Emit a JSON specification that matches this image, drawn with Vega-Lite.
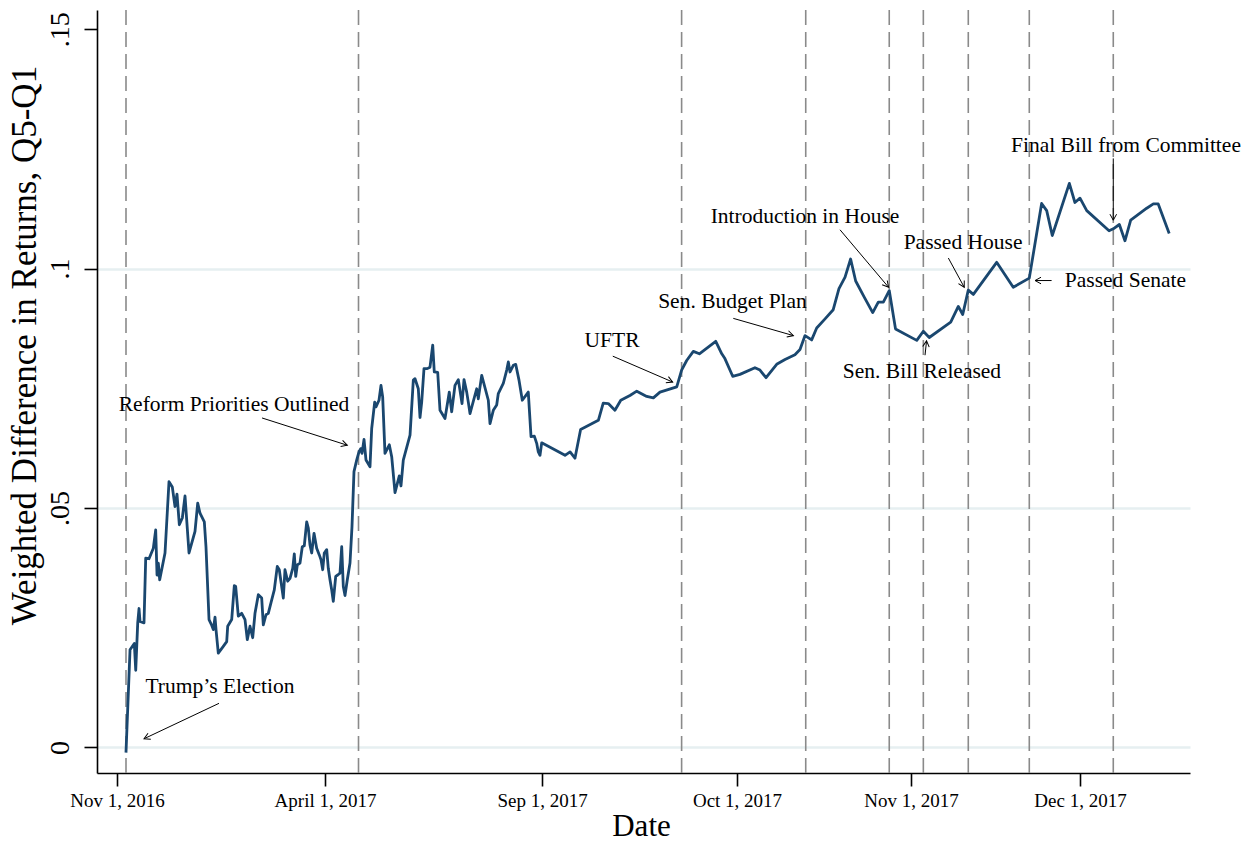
{
  "$schema": "https://vega.github.io/schema/vega-lite/v6.json",
  "width": 1093,
  "height": 763,
  "autosize": {"type": "none"},
  "padding": {"left": 97, "top": 10, "right": 63, "bottom": 69},
  "background": "white",
  "config": {"view": {"stroke": null}, "font": "Liberation Serif"},
  "datasets": {
    "series": [
      {"t":0.216,"v":-0.0011},{"t":0.313,"v":0.0204},{"t":0.416,"v":0.0217},{"t":0.45,"v":0.0161},{"t":0.498,"v":0.026},{"t":0.529,"v":0.029},{"t":0.553,"v":0.0263},{"t":0.649,"v":0.026},{"t":0.69,"v":0.0395},{"t":0.769,"v":0.0394},{"t":0.873,"v":0.0416},{"t":0.93,"v":0.0454},{"t":0.962,"v":0.036},{"t":0.993,"v":0.0385},{"t":1.026,"v":0.035},{"t":1.154,"v":0.0406},{"t":1.25,"v":0.0555},{"t":1.329,"v":0.0544},{"t":1.394,"v":0.0503},{"t":1.442,"v":0.0529},{"t":1.498,"v":0.0465},{"t":1.57,"v":0.0479},{"t":1.635,"v":0.0525},{"t":1.731,"v":0.0406},{"t":1.875,"v":0.0451},{"t":1.94,"v":0.051},{"t":1.995,"v":0.0489},{"t":2.099,"v":0.0471},{"t":2.139,"v":0.0419},{"t":2.212,"v":0.0267},{"t":2.276,"v":0.0255},{"t":2.315,"v":0.0246},{"t":2.356,"v":0.0272},{"t":2.38,"v":0.0246},{"t":2.435,"v":0.0197},{"t":2.555,"v":0.0211},{"t":2.637,"v":0.0221},{"t":2.661,"v":0.0253},{"t":2.757,"v":0.0267},{"t":2.82,"v":0.0338},{"t":2.853,"v":0.0336},{"t":2.916,"v":0.0274},{"t":2.998,"v":0.028},{"t":3.077,"v":0.0267},{"t":3.132,"v":0.0225},{"t":3.197,"v":0.0253},{"t":3.262,"v":0.0229},{"t":3.317,"v":0.028},{"t":3.397,"v":0.0319},{"t":3.478,"v":0.0312},{"t":3.517,"v":0.0256},{"t":3.582,"v":0.0277},{"t":3.637,"v":0.028},{"t":3.719,"v":0.0308},{"t":3.781,"v":0.0329},{"t":3.853,"v":0.0378},{"t":3.901,"v":0.0371},{"t":3.998,"v":0.0312},{"t":4.038,"v":0.0371},{"t":4.103,"v":0.0347},{"t":4.159,"v":0.0353},{"t":4.224,"v":0.0374},{"t":4.262,"v":0.0404},{"t":4.296,"v":0.0357},{"t":4.334,"v":0.0381},{"t":4.399,"v":0.0385},{"t":4.454,"v":0.0419},{"t":4.502,"v":0.0421},{"t":4.56,"v":0.0471},{"t":4.599,"v":0.0458},{"t":4.639,"v":0.0423},{"t":4.68,"v":0.0406},{"t":4.736,"v":0.0447},{"t":4.8,"v":0.0416},{"t":4.863,"v":0.0402},{"t":4.904,"v":0.0392},{"t":4.945,"v":0.0371},{"t":4.983,"v":0.0406},{"t":5.039,"v":0.0413},{"t":5.076,"v":0.0374},{"t":5.115,"v":0.035},{"t":5.154,"v":0.0329},{"t":5.191,"v":0.0305},{"t":5.247,"v":0.0357},{"t":5.293,"v":0.036},{"t":5.346,"v":0.0364},{"t":5.385,"v":0.0419},{"t":5.422,"v":0.0336},{"t":5.461,"v":0.0317},{"t":5.514,"v":0.035},{"t":5.576,"v":0.0385},{"t":5.622,"v":0.0461},{"t":5.668,"v":0.0576},{"t":5.73,"v":0.06},{"t":5.783,"v":0.0617},{"t":5.823,"v":0.0624},{"t":5.853,"v":0.0614},{"t":5.899,"v":0.0643},{"t":5.945,"v":0.06},{"t":6.037,"v":0.0586},{"t":6.076,"v":0.0666},{"t":6.145,"v":0.0721},{"t":6.175,"v":0.0711},{"t":6.244,"v":0.0725},{"t":6.29,"v":0.0756},{"t":6.329,"v":0.0732},{"t":6.382,"v":0.0614},{"t":6.482,"v":0.0632},{"t":6.537,"v":0.0607},{"t":6.613,"v":0.0532},{"t":6.666,"v":0.0551},{"t":6.712,"v":0.0567},{"t":6.751,"v":0.0546},{"t":6.804,"v":0.06},{"t":6.959,"v":0.0652},{"t":7.035,"v":0.0767},{"t":7.074,"v":0.077},{"t":7.15,"v":0.0749},{"t":7.189,"v":0.0689},{"t":7.228,"v":0.0721},{"t":7.281,"v":0.0791},{"t":7.357,"v":0.0791},{"t":7.419,"v":0.0794},{"t":7.482,"v":0.084},{"t":7.518,"v":0.0784},{"t":7.597,"v":0.0783},{"t":7.65,"v":0.0704},{"t":7.765,"v":0.0687},{"t":7.864,"v":0.0742},{"t":7.919,"v":0.0701},{"t":7.995,"v":0.0756},{"t":8.072,"v":0.0768},{"t":8.157,"v":0.0718},{"t":8.203,"v":0.0768},{"t":8.265,"v":0.0742},{"t":8.302,"v":0.0721},{"t":8.341,"v":0.0697},{"t":8.495,"v":0.0749},{"t":8.532,"v":0.0728},{"t":8.611,"v":0.0777},{"t":8.763,"v":0.0725},{"t":8.802,"v":0.0676},{"t":8.878,"v":0.0704},{"t":8.956,"v":0.0715},{"t":8.993,"v":0.0739},{"t":9.108,"v":0.076},{"t":9.187,"v":0.0788},{"t":9.224,"v":0.0805},{"t":9.263,"v":0.0784},{"t":9.339,"v":0.0798},{"t":9.394,"v":0.08},{"t":9.47,"v":0.0767},{"t":9.546,"v":0.0725},{"t":9.684,"v":0.0742},{"t":9.747,"v":0.0649},{"t":9.823,"v":0.065},{"t":9.878,"v":0.0635},{"t":9.915,"v":0.0617},{"t":9.954,"v":0.061},{"t":9.993,"v":0.0636},{"t":10.118,"v":0.061},{"t":10.144,"v":0.0617},{"t":10.169,"v":0.0604},{"t":10.198,"v":0.0664},{"t":10.289,"v":0.0683},{"t":10.314,"v":0.0719},{"t":10.34,"v":0.0718},{"t":10.374,"v":0.0704},{"t":10.404,"v":0.0725},{"t":10.451,"v":0.0735},{"t":10.486,"v":0.0744},{"t":10.537,"v":0.0733},{"t":10.571,"v":0.073},{"t":10.605,"v":0.0742},{"t":10.691,"v":0.0753},{"t":10.716,"v":0.0788},{"t":10.742,"v":0.0808},{"t":10.776,"v":0.0827},{"t":10.807,"v":0.0822},{"t":10.891,"v":0.0848},{"t":10.922,"v":0.0822},{"t":10.938,"v":0.0812},{"t":10.978,"v":0.0775},{"t":11.017,"v":0.0779},{"t":11.103,"v":0.0793},{"t":11.132,"v":0.0788},{"t":11.167,"v":0.0772},{"t":11.228,"v":0.08},{"t":11.276,"v":0.081},{"t":11.333,"v":0.082},{"t":11.362,"v":0.0831},{"t":11.391,"v":0.086},{"t":11.429,"v":0.0851},{"t":11.458,"v":0.0876},{"t":11.506,"v":0.0895},{"t":11.553,"v":0.0914},{"t":11.586,"v":0.0958},{"t":11.621,"v":0.0982},{"t":11.653,"v":0.102},{"t":11.682,"v":0.0974},{"t":11.732,"v":0.094},{"t":11.78,"v":0.0908},{"t":11.812,"v":0.093},{"t":11.841,"v":0.093},{"t":11.875,"v":0.0954},{"t":11.911,"v":0.0874},{"t":12.034,"v":0.085},{"t":12.073,"v":0.0869},{"t":12.108,"v":0.0856},{"t":12.235,"v":0.0888},{"t":12.28,"v":0.0921},{"t":12.306,"v":0.0904},{"t":12.339,"v":0.0955},{"t":12.369,"v":0.0946},{"t":12.507,"v":0.1013},{"t":12.605,"v":0.0961},{"t":12.7,"v":0.098},{"t":12.773,"v":0.1136},{"t":12.803,"v":0.1121},{"t":12.836,"v":0.1069},{"t":12.937,"v":0.1178},{"t":12.97,"v":0.1138},{"t":13.0,"v":0.1147},{"t":13.04,"v":0.1121},{"t":13.172,"v":0.1079},{"t":13.197,"v":0.1083},{"t":13.233,"v":0.1092},{"t":13.266,"v":0.1058},{"t":13.3,"v":0.1101},{"t":13.395,"v":0.1126},{"t":13.434,"v":0.1135},{"t":13.463,"v":0.1135},{"t":13.528,"v":0.1073}
    ],
    "events": [
      {"event":"Trump's Election","t":0.216},
      {"event":"Reform Priorities Outlined","t":5.772},
      {"event":"UFTR","t":10.716},
      {"event":"Sen. Budget Plan","t":11.395},
      {"event":"Introduction in House","t":11.875},
      {"event":"Sen. Bill Released","t":12.073},
      {"event":"Passed House","t":12.339},
      {"event":"Passed Senate","t":12.7},
      {"event":"Final Bill from Committee","t":13.197}
    ],
    "notes": [
      {"label":"Trump’s Election","tt":2.476,"tv":0.0127,"t1":2.452,"v1":0.0092,"t2":0.649,"v2":0.0018,"angle":154.8},
      {"label":"Reform Priorities Outlined","tt":2.8125,"tv":0.0715,"t1":3.486,"v1":0.0688,"t2":5.514,"v2":0.0631,"angle":17.6},
      {"label":"UFTR","tt":10.359,"tv":0.0848,"t1":10.363,"v1":0.0817,"t2":10.67,"v2":0.0763,"angle":23.2},
      {"label":"Sen. Budget Plan","tt":10.977,"tv":0.0931,"t1":10.981,"v1":0.0896,"t2":11.324,"v2":0.086,"angle":16.1},
      {"label":"Introduction in House","tt":11.391,"tv":0.1108,"t1":11.592,"v1":0.1081,"t2":11.871,"v2":0.0961,"angle":50.1},
      {"label":"Passed House","tt":12.308,"tv":0.1054,"t1":12.221,"v1":0.1022,"t2":12.315,"v2":0.0961,"angle":61.4},
      {"label":"Sen. Bill Released","tt":12.065,"tv":0.0785,"t1":12.083,"v1":0.0819,"t2":12.092,"v2":0.0849,"angle":-84.1},
      {"label":"Passed Senate","tt":13.269,"tv":0.0975,"t1":12.832,"v1":0.0975,"t2":12.734,"v2":0.0975,"angle":180},
      {"label":"Final Bill from Committee","tt":13.272,"tv":0.1256,"t1":13.197,"v1":0.123,"t2":13.197,"v2":0.1101,"angle":90}
    ]
  },
  "layer": [
    {
      "data": {"name": "events"},
      "mark": {"type": "rule", "color": "#8a8a8a", "strokeWidth": 1.6, "strokeDash": [15, 7]},
      "encoding": {
        "x": {
          "field": "t", "type": "quantitative", "title": "Date",
          "scale": {"type": "linear", "domain": [-0.481, 5, 10, 11, 12, 13.651], "range": [0, 228, 445, 640, 814, 1093], "nice": false, "zero": false},
          "axis": {
            "values": [0, 5, 10, 11, 12, 13],
            "labelExpr": "datum.value == 0 ? 'Nov 1, 2016' : datum.value == 5 ? 'April 1, 2017' : datum.value == 10 ? 'Sep 1, 2017' : datum.value == 11 ? 'Oct 1, 2017' : datum.value == 12 ? 'Nov 1, 2017' : 'Dec 1, 2017'",
            "grid": false,
            "domainColor": "black", "domainWidth": 1.6,
            "tickColor": "black", "tickWidth": 1.6, "tickSize": 13,
            "labelFont": "Liberation Serif", "labelFontSize": 19, "labelColor": "black",
            "labelPadding": 20, "labelBaseline": "alphabetic", "labelAngle": 0,
            "labelOverlap": false, "labelFlush": false,
            "titleFont": "Liberation Serif", "titleFontSize": 31, "titleFontWeight": "normal", "titleColor": "black",
            "titleX": 544, "titleY": 62, "titleAlign": "center", "titleBaseline": "alphabetic", "titleAngle": 0
          }
        }
      }
    },
    {
      "data": {"name": "series"},
      "mark": {"type": "line", "color": "#1a476f", "strokeWidth": 2.8, "strokeJoin": "round"},
      "encoding": {
        "x": {"field": "t", "type": "quantitative", "title": "Date"},
        "y": {
          "field": "v", "type": "quantitative", "title": "Weighted Difference in Returns, Q5-Q1",
          "scale": {"domain": [-0.00535, 0.154], "nice": false, "zero": false},
          "axis": {
            "values": [0, 0.05, 0.1, 0.15],
            "labelExpr": "replace(format(datum.value, '.2~f'), '0.', '.')",
            "grid": true,
            "gridColor": {"condition": {"test": "datum.value > 0.12", "value": "transparent"}, "value": "#e6eff1"},
            "gridWidth": 2.5,
            "domainColor": "black", "domainWidth": 1.6,
            "tickColor": "black", "tickWidth": 1.6, "tickSize": 13,
            "labelFont": "Liberation Serif", "labelFontSize": 28, "labelColor": "black",
            "labelAngle": -90, "labelAlign": "center", "labelBaseline": "alphabetic", "labelPadding": 16,
            "labelOverlap": false, "labelFlush": false,
            "titleFont": "Liberation Serif", "titleFontSize": 35, "titleFontWeight": "normal", "titleColor": "black",
            "titleAngle": -90, "titleX": -62, "titleY": 335, "titleAlign": "center", "titleBaseline": "alphabetic"
          }
        }
      }
    },
    {
      "data": {"name": "notes"},
      "mark": {"type": "rule", "color": "black", "strokeWidth": 1},
      "encoding": {
        "x": {"field": "t1", "type": "quantitative", "title": "Date"},
        "y": {"field": "v1", "type": "quantitative", "title": "Weighted Difference in Returns, Q5-Q1"},
        "x2": {"field": "t2"},
        "y2": {"field": "v2"}
      }
    },
    {
      "data": {"name": "notes"},
      "mark": {"type": "point", "shape": "M-1,-0.55L0,0L-1,0.55", "filled": false, "stroke": "black", "strokeWidth": 1, "size": 144, "opacity": 1},
      "encoding": {
        "x": {"field": "t2", "type": "quantitative", "title": "Date"},
        "y": {"field": "v2", "type": "quantitative", "title": "Weighted Difference in Returns, Q5-Q1"},
        "angle": {"field": "angle", "type": "quantitative", "scale": null}
      }
    },
    {
      "data": {"name": "notes"},
      "mark": {"type": "text", "font": "Liberation Serif", "fontSize": 21.5, "color": "black", "align": "center", "baseline": "middle"},
      "encoding": {
        "x": {"field": "tt", "type": "quantitative", "title": "Date"},
        "y": {"field": "tv", "type": "quantitative", "title": "Weighted Difference in Returns, Q5-Q1"},
        "text": {"field": "label"}
      }
    }
  ]
}
